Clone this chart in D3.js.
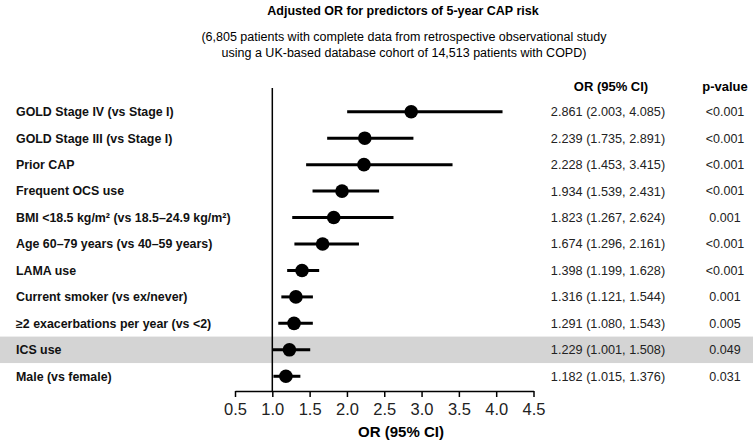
<!DOCTYPE html>
<html><head><meta charset="utf-8">
<script src="https://cdn.jsdelivr.net/npm/d3@7"></script>
<style>body{margin:0;background:#fff;} svg{display:block;font-family:Arial,"Liberation Sans",sans-serif;}</style>
</head><body>
<svg id="c" width="753" height="442"></svg>
<script>
const labels = ["GOLD Stage IV (vs Stage I)","GOLD Stage III (vs Stage I)","Prior CAP","Frequent OCS use","BMI <18.5 kg/m² (vs 18.5–24.9 kg/m²)","Age 60–79 years (vs 40–59 years)","LAMA use","Current smoker (vs ex/never)","≥2 exacerbations per year (vs <2)","ICS use","Male (vs female)"];
const orValues = [2.861,2.239,2.228,1.934,1.823,1.674,1.398,1.316,1.291,1.229,1.182];
const ciLow = [2.003,1.735,1.453,1.539,1.267,1.296,1.199,1.121,1.080,1.001,1.015];
const ciHigh = [4.085,2.891,3.415,2.431,2.624,2.161,1.628,1.544,1.543,1.508,1.376];
const pValues = ["<0.001","<0.001","<0.001","<0.001","0.001","<0.001","<0.001","0.001","0.005","0.049","0.031"];
const tickValues = [0.5,1.0,1.5,2.0,2.5,3.0,3.5,4.0,4.5];
const highlighted = ["ICS use"];

const svg = d3.select("#c");
const x = d3.scaleLinear().domain([0.5,4.5]).range([235,533.5]);
const y = d3.scaleBand().domain(labels).range([98.5,389.5]).padding(0);
const cy = d => y(d)+y.bandwidth()/2;

// highlight band
svg.selectAll("rect.hl").data(highlighted).join("rect")
  .attr("x",0).attr("width",753).attr("y",d=>y(d)).attr("height",y.bandwidth())
  .attr("fill","#d4d4d4");

// title
svg.append("text").attr("x",403).attr("y",15).attr("text-anchor","middle")
  .attr("font-weight","bold").attr("font-size",12.5).text("Adjusted OR for predictors of 5-year CAP risk");
svg.append("text").attr("x",404).attr("y",41).attr("text-anchor","middle")
  .attr("font-size",12.5).text("(6,805 patients with complete data from retrospective observational study");
svg.append("text").attr("x",404).attr("y",57).attr("text-anchor","middle")
  .attr("font-size",12.5).text("using a UK-based database cohort of 14,513 patients with COPD)");

// headers
svg.append("text").attr("x",611).attr("y",91).attr("text-anchor","middle")
  .attr("font-weight","bold").attr("font-size",13).text("OR (95% CI)");
svg.append("text").attr("x",725).attr("y",91).attr("text-anchor","middle")
  .attr("font-weight","bold").attr("font-size",13).text("p-value");

// row labels
svg.selectAll("text.lab").data(labels).join("text").attr("class","lab")
  .attr("x",16).attr("y",d=>cy(d)).attr("dy","0.35em")
  .attr("font-weight","bold").attr("font-size",12.4).attr("fill","#111").text(d=>d);

// reference line
svg.append("line").attr("x1",x(1)).attr("x2",x(1)).attr("y1",88).attr("y2",391)
  .attr("stroke","#000").attr("stroke-width",1.5);

// CI lines and dots
const rows = labels.map((l,i)=>({l,or:orValues[i],lo:ciLow[i],hi:ciHigh[i],p:pValues[i]}));
svg.selectAll("line.ci").data(rows).join("line")
  .attr("x1",d=>x(d.lo)).attr("x2",d=>x(d.hi)).attr("y1",d=>cy(d.l)).attr("y2",d=>cy(d.l))
  .attr("stroke","#000").attr("stroke-width",3);
svg.selectAll("circle.pt").data(rows).join("circle")
  .attr("cx",d=>x(d.or)).attr("cy",d=>cy(d.l)).attr("r",6.8).attr("fill","#000");

// OR text and p text
const fmt = d3.format(".3f");
svg.selectAll("text.ort").data(rows).join("text")
  .attr("x",608).attr("y",d=>cy(d.l)).attr("dy","0.35em").attr("text-anchor","middle")
  .attr("font-size",12.7).attr("fill","#222")
  .text(d=>`${fmt(d.or)} (${fmt(d.lo)}, ${fmt(d.hi)})`);
svg.selectAll("text.pt").data(rows).join("text")
  .attr("x",725).attr("y",d=>cy(d.l)).attr("dy","0.35em").attr("text-anchor","middle")
  .attr("font-size",12.5).attr("fill","#222").text(d=>d.p);

// axis
const ax = svg.append("g").attr("transform","translate(0,391)")
  .call(d3.axisBottom(x).tickValues(tickValues).tickFormat(d3.format(".1f")).tickSize(6).tickSizeOuter(0));
ax.select(".domain").attr("stroke","#000").attr("stroke-width",1.5);
ax.selectAll(".tick line").attr("stroke","#000").attr("stroke-width",1.5);
ax.selectAll(".tick text").attr("font-size",16.5).attr("font-family","Arial,'Liberation Sans',sans-serif")
  .attr("fill","#222").attr("y",12).attr("dy","0.71em");

svg.append("text").attr("x",401).attr("y",437).attr("text-anchor","middle")
  .attr("font-weight","bold").attr("font-size",15).text("OR (95% CI)");
</script>
</body></html>
